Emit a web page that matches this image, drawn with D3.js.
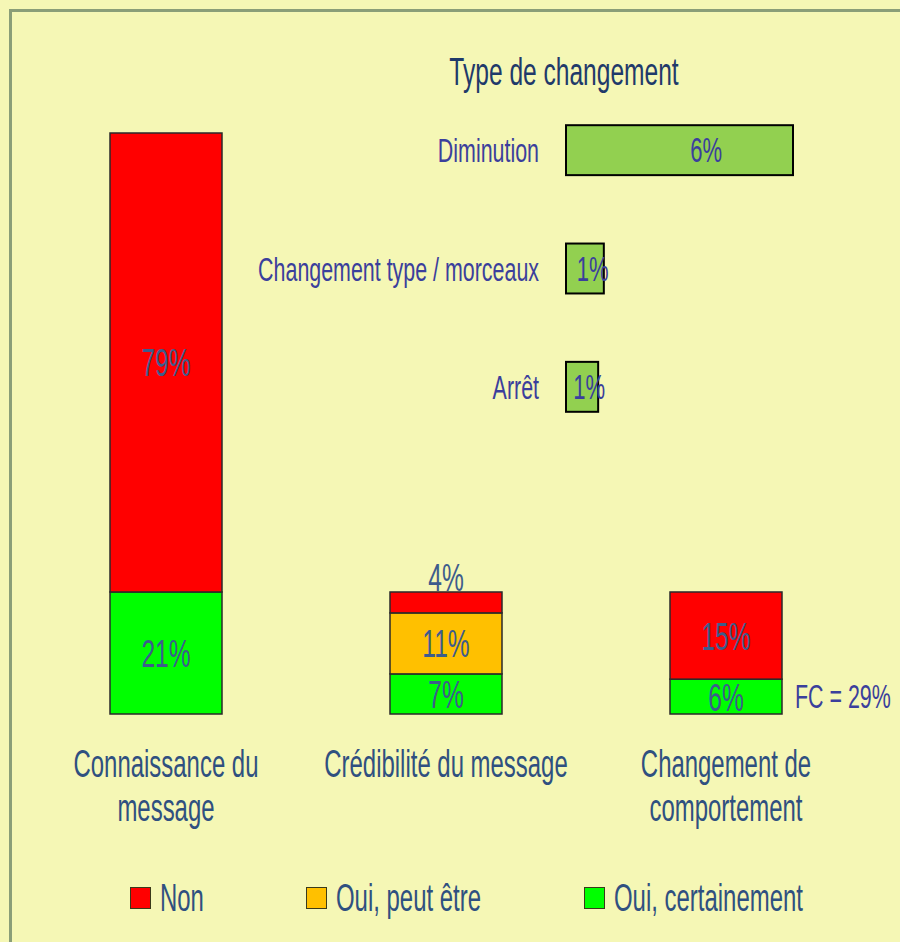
<!DOCTYPE html>
<html>
<head>
<meta charset="utf-8">
<script src="https://cdn.jsdelivr.net/npm/d3@7"></script>
<style>
  html, body { margin: 0; padding: 0; background: #f5f7b5; }
  svg { display: block; }
  text { font-family: "Liberation Sans", Arial, sans-serif; }
</style>
</head>
<body>
<svg id="chart"></svg>
<script>
// main stacked bars
var categories = ["Connaissance du message", "Crédibilité du message", "Changement de comportement"];
var catLines = [["Connaissance du", "message"], ["Crédibilité du message"], ["Changement de", "comportement"]];
var seriesNames = ["Oui, certainement", "Oui, peut être", "Non"];
var ouiCertain = [21, 6.9, 6];
var ouiPeutEtre = [0, 10.5, 0];
var non = [79, 3.6, 15];
var ouiCertainLbl = ["21%", "7%", "6%"];
var ouiPeutEtreLbl = ["", "11%", ""];
var nonLbl = ["79%", "4%", "15%"];

// inset : type de changement
var typeNames = ["Diminution", "Changement type / morceaux", "Arrêt"];
var typeValues = [6, 1, 0.85];
var typeLbl = ["6%", "1%", "1%"];
var fcLabel = "FC = 29%";

var width = 900, height = 942;
var sx = 0.63; // condensed look
var colors = {"Non": "#ff0000", "Oui, peut être": "#ffc000", "Oui, certainement": "#00ff00"};
var blue = "#2f5080", purple = "#3b3f9c";

var svg = d3.select("#chart").attr("width", width).attr("height", height);

svg.append("rect").attr("width", width).attr("height", height).attr("fill", "#f5f7b5");
svg.append("rect")
    .attr("x", 10.5).attr("y", 10.5)
    .attr("width", width + 20).attr("height", height + 20)
    .attr("fill", "none").attr("stroke", "#8a9e78").attr("stroke-width", 3);

// squeezed text helper
function txt(parent, x, y, s, size, color, anchor) {
    var g = parent.append("g").attr("transform", "translate(" + x + "," + y + ") scale(" + sx + ",1)");
    g.append("text")
        .attr("text-anchor", anchor || "middle")
        .attr("font-size", size)
        .attr("fill", color)
        .text(s);
    return g;
}

var x = d3.scaleBand().domain(categories).range([26, 866]).paddingInner(0.6).paddingOuter(0.3);
var y = d3.scaleLinear().domain([0, 100]).range([714, 133]);

var rows = categories.map(function(c, i) {
    return {cat: c, "Oui, certainement": ouiCertain[i], "Oui, peut être": ouiPeutEtre[i], "Non": non[i]};
});
var labels = {"Oui, certainement": ouiCertainLbl, "Oui, peut être": ouiPeutEtreLbl, "Non": nonLbl};
var stack = d3.stack().keys(seriesNames)(rows);

var layer = svg.selectAll(".layer").data(stack).enter().append("g").attr("class", "layer");
layer.selectAll("rect")
    .data(function(d) { return d.filter(function(p) { return p[1] - p[0] > 0; }); })
    .enter().append("rect")
    .attr("x", function(d) { return x(d.data.cat); })
    .attr("width", x.bandwidth())
    .attr("y", function(d) { return y(d[1]); })
    .attr("height", function(d) { return y(d[0]) - y(d[1]); })
    .attr("fill", function() { return colors[d3.select(this.parentNode).datum().key]; })
    .attr("stroke", "#2a2a2a").attr("stroke-width", 1.5);

var lblG = svg.append("g");
stack.forEach(function(s) {
    s.forEach(function(p, i) {
        var t = labels[s.key][i];
        if (!t) return;
        var cx = x(p.data.cat) + x.bandwidth() / 2;
        var h = y(p[0]) - y(p[1]);
        var cy = h < 25 ? y(p[1]) - 15 : (y(p[0]) + y(p[1])) / 2;
        txt(lblG, cx, cy + 14, t, 39, "#3d5c8c");
    });
});

// category labels
catLines.forEach(function(lines, i) {
    lines.forEach(function(l, j) {
        txt(svg, x(categories[i]) + x.bandwidth() / 2, 777 + j * 44, l, 38, blue);
    });
});

// inset
var xi = d3.scaleLinear().domain([0, 6]).range([566, 793]);
var yi = d3.scaleBand().domain(typeNames).range([91, 446]).paddingInner(0.578).paddingOuter(0.289);

txt(svg, 564, 85, "Type de changement", 39, "#1f3a6a");

svg.selectAll(".tbar").data(typeNames).enter().append("rect")
    .attr("class", "tbar")
    .attr("x", xi(0))
    .attr("y", function(d) { return yi(d); })
    .attr("width", function(d, i) { return xi(typeValues[i]) - xi(0); })
    .attr("height", yi.bandwidth())
    .attr("fill", "#92d050").attr("stroke", "#000").attr("stroke-width", 2);

typeNames.forEach(function(n, i) {
    var cy = yi(n) + yi.bandwidth() / 2;
    txt(svg, 539, cy + 12, n, 34, purple, "end");
    var w = xi(typeValues[i]) - xi(0);
    txt(svg, xi(0) + w * 0.6 + 4, cy + 12, typeLbl[i], 35, purple);
});

txt(svg, 795, 708, fcLabel, 34, purple, "start");

// legend
var legendNames = ["Non", "Oui, peut être", "Oui, certainement"];
var legendX = [130, 306, 584];
legendNames.forEach(function(n, i) {
    svg.append("rect")
        .attr("x", legendX[i] + 0.5).attr("y", 887.5)
        .attr("width", 20).attr("height", 21)
        .attr("fill", colors[n]).attr("stroke", "#3a3a1a").attr("stroke-width", 1);
    txt(svg, legendX[i] + 30, 911, n, 38, blue, "start");
});
</script>
</body>
</html>
